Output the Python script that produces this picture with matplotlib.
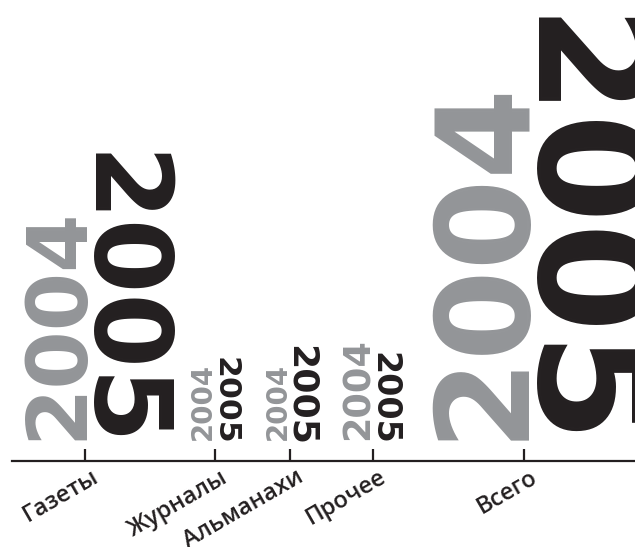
import matplotlib
matplotlib.use("Agg")
import matplotlib.pyplot as plt

categories = ["Газеты", "Журналы", "Альманахи", "Прочее", "Всего"]
size_2004 = [222, 73, 73, 97, 345]
size_2005 = [290, 85, 98, 90, 425]

# tick positions along the axis (uneven, as in the original)
positions = [73, 203, 278, 361, 512]

GREY = "#939598"
BLACK = "#231f20"

fig = plt.figure(figsize=(6.35, 5.47), dpi=100)
ax = fig.add_axes([12 / 635, 86 / 547, 623 / 635, 461 / 547])
ax.set_xlim(0, 623)
ax.set_ylim(0, 461)
ax.patch.set_alpha(0)

for s in ["top", "right", "left"]:
    ax.spines[s].set_visible(False)
ax.spines["bottom"].set_color(BLACK)
ax.spines["bottom"].set_linewidth(1.6)
ax.set_yticks([])
ax.set_xticks(positions)
ax.set_xticklabels([])
ax.tick_params(axis="x", direction="in", length=9, width=1.6, color=BLACK)

for x, lab in zip(positions, categories):
    ax.annotate(lab, xy=(x, 0), xytext=(4, -3), textcoords="offset points",
                rotation=30, rotation_mode="anchor", ha="right", va="top",
                fontsize=17, fontweight="semibold", family="Open Sans",
                color=BLACK, annotation_clip=False)

renderer = fig.canvas.get_renderer()

def probe_length(text, rot):
    t = ax.text(0, 0, text, fontsize=100, fontweight="bold", rotation=rot)
    bb = t.get_window_extent(renderer)
    t.remove()
    return bb.height

# ink is a bit shorter than the advance box
len04 = probe_length("2004", 90) * 0.95
len05 = probe_length("2005", 270) * 0.97

def px(v):
    return ax.transData.transform((0, v))[1] - ax.transData.transform((0, 0))[1]

base = 21
for x, a, b in zip(positions, size_2004, size_2005):
    fs_a = 100 * px(a) / len04
    fs_b = 100 * px(b) / len05
    ax.text(x - 4, base, "2004", rotation=90, rotation_mode="anchor",
            ha="left", va="baseline", fontsize=fs_a, fontweight="bold",
            color=GREY)
    shift = 0.07 * fs_b * 100 / 72
    ax.text(x + 1, base - 3 - shift, "2005", rotation=270, rotation_mode="anchor",
            ha="right", va="baseline", fontsize=fs_b, fontweight="bold",
            color=BLACK)

fig.savefig("out.png", dpi=100)
